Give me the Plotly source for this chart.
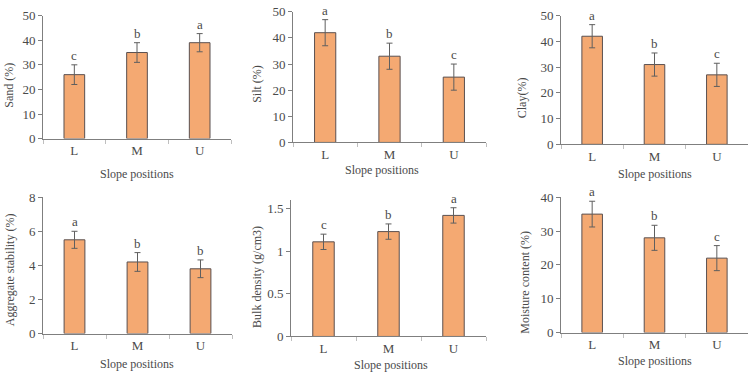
import plotly.graph_objects as go

categories = ["L", "M", "U"]

sand = [26, 35, 39]
sand_err = [4, 4, 3.7]
sand_letters = ["c", "b", "a"]

silt = [42, 33, 25]
silt_err = [5, 5, 5]
silt_letters = ["a", "b", "c"]

clay = [42, 31, 27]
clay_err = [4.5, 4.5, 4.5]
clay_letters = ["a", "b", "c"]

aggregate = [5.5, 4.2, 3.8]
aggregate_err = [0.5, 0.55, 0.52]
aggregate_letters = ["a", "b", "b"]

bulk = [1.11, 1.23, 1.42]
bulk_err = [0.09, 0.09, 0.09]
bulk_letters = ["c", "b", "a"]

moisture = [35, 28, 22]
moisture_err = [3.8, 3.7, 3.7]
moisture_letters = ["a", "b", "c"]

W, H = 750, 380
FONT = "Liberation Serif, Times New Roman, serif"
FS = 12
TXT = "#4a4a4a"
FILL = "#F4A972"
EDGE = "#5a5050"

panels = [
    dict(vals=sand, err=sand_err, let=sand_letters, title="Sand (%)", rng=[0, 50], dt=10,
         px=(43, 231), py=(9, 137), ttl=(9, 82), xt=(137, 174)),
    dict(vals=silt, err=silt_err, let=silt_letters, title="Silt (%)", rng=[0, 50], dt=10,
         px=(293, 486), py=(5, 141), ttl=(257, 80), xt=(382, 170)),
    dict(vals=clay, err=clay_err, let=clay_letters, title="Clay(%)", rng=[0, 50], dt=10,
         px=(561, 748), py=(9, 143), ttl=(522, 95), xt=(655, 174)),
    dict(vals=aggregate, err=aggregate_err, let=aggregate_letters, title="Aggregate stability (%)", rng=[0, 8], dt=2,
         px=(43, 232), py=(198, 340), ttl=(10, 274), xt=(137, 372)),
    dict(vals=bulk, err=bulk_err, let=bulk_letters, title="Bulk density (g/cm3)", rng=[0, 1.6], dt=0.5,
         px=(291, 486), py=(201, 343), ttl=(257, 281), xt=(391, 373)),
    dict(vals=moisture, err=moisture_err, let=moisture_letters, title="Moisture content (%)", rng=[0, 40], dt=10,
         px=(561, 748), py=(198, 339), ttl=(525, 287), xt=(655, 369)),
]

fig = go.Figure()
annotations = []
layout = {}
for i, p in enumerate(panels, start=1):
    xa = "x" if i == 1 else f"x{i}"
    ya = "y" if i == 1 else f"y{i}"
    fig.add_trace(go.Bar(
        x=categories, y=p["vals"], xaxis=xa, yaxis=ya, width=0.33,
        marker=dict(color=FILL, line=dict(color=EDGE, width=1)),
        error_y=dict(type="data", array=p["err"], color="#5f5f5f", thickness=1, width=3),
        showlegend=False, hoverinfo="skip",
    ))
    xkey = "xaxis" if i == 1 else f"xaxis{i}"
    ykey = "yaxis" if i == 1 else f"yaxis{i}"
    layout[xkey] = dict(
        domain=[p["px"][0] / W, p["px"][1] / W], anchor=ya, type="category",
        range=[-0.5, 2.5], showline=True, linecolor="#7f7f7f", linewidth=1,
        ticks="outside", tickson="boundaries", ticklen=4, tickcolor="#bfbfbf",
        showgrid=False, zeroline=False, fixedrange=True,
        tickfont=dict(family=FONT, size=FS + 1, color=TXT),
    )
    layout[ykey] = dict(
        domain=[1 - p["py"][1] / H, 1 - p["py"][0] / H], anchor=xa,
        range=p["rng"], dtick=p["dt"], tick0=0, showline=True, linecolor="#7f7f7f", linewidth=1,
        ticks="outside", ticklen=4, tickcolor="#7f7f7f", showgrid=False, zeroline=False,
        fixedrange=True, tickfont=dict(family=FONT, size=FS + 1, color=TXT),
    )
    for c, v, e, l in zip(categories, p["vals"], p["err"], p["let"]):
        annotations.append(dict(
            x=c, y=v + e, xref=xa, yref=ya, text=l, showarrow=False,
            yanchor="bottom", yshift=0, font=dict(family=FONT, size=FS + 1, color=TXT),
        ))
    annotations.append(dict(
        x=p["ttl"][0] / W, y=1 - p["ttl"][1] / H, xref="paper", yref="paper",
        text=p["title"], textangle=-90, showarrow=False, xanchor="center", yanchor="middle",
        font=dict(family=FONT, size=FS, color=TXT),
    ))
    annotations.append(dict(
        x=p["xt"][0] / W, y=1 - p["xt"][1] / H, xref="paper", yref="paper",
        text="Slope positions", showarrow=False, xanchor="center", yanchor="middle",
        font=dict(family=FONT, size=FS, color=TXT),
    ))

fig.update_layout(
    width=W, height=H, margin=dict(l=0, r=0, t=0, b=0),
    paper_bgcolor="white", plot_bgcolor="white",
    annotations=annotations, bargap=0.67, **layout,
)

fig.write_html("out.html")
